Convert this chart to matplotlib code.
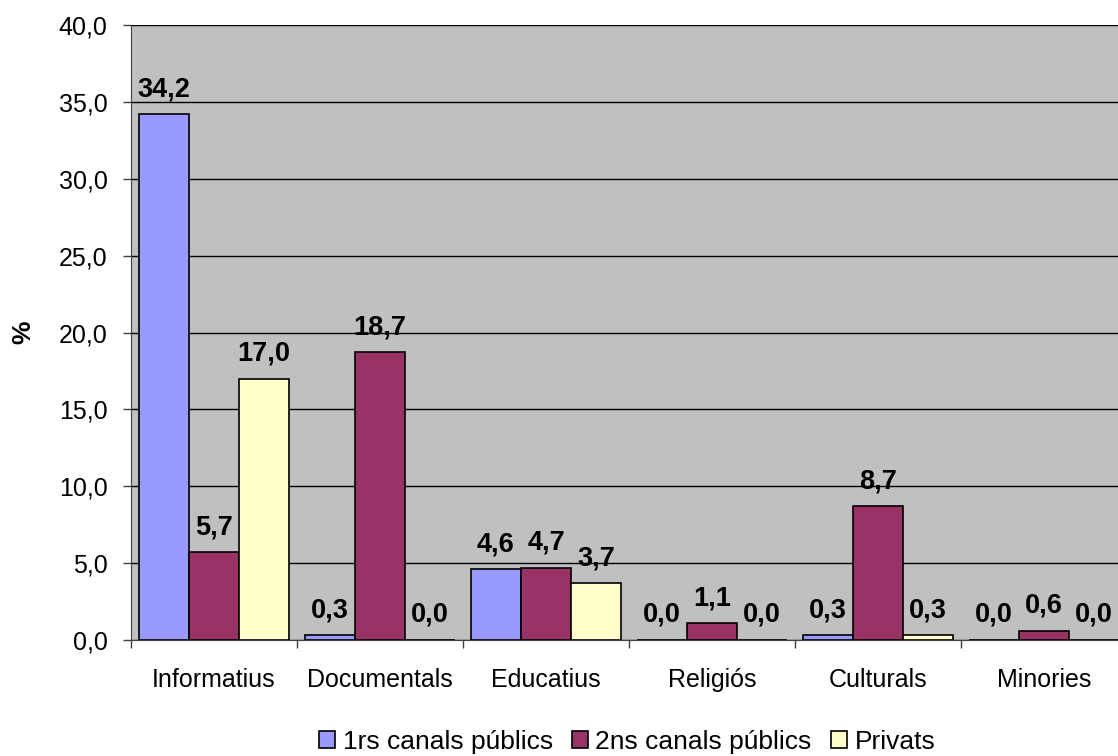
import numpy as np
import matplotlib
matplotlib.use("Agg")
import matplotlib.pyplot as plt
from matplotlib.patches import Patch

plt.rcParams['font.family'] = ['Liberation Sans', 'DejaVu Sans']

categories = ['Informatius', 'Documentals', 'Educatius', 'Religiós', 'Culturals', 'Minories']
primers = [34.2, 0.3, 4.6, 0.0, 0.3, 0.0]
segons = [5.7, 18.7, 4.7, 1.1, 8.7, 0.6]
privats = [17.0, 0.0, 3.7, 0.0, 0.3, 0.0]
series_names = ['1rs canals públics', '2ns canals públics', 'Privats']
colors = ['#9999FF', '#993366', '#FFFFCC']

fig = plt.figure(figsize=(11.18, 7.56), dpi=100)
ax = fig.add_axes([131 / 1118, 116 / 756, 996 / 1118, 615 / 756])
ax.set_facecolor('#C0C0C0')

x = np.arange(len(categories))
w = 0.302
for i, (vals, col) in enumerate(zip([primers, segons, privats], colors)):
    pos = x + (i - 1) * w
    ax.bar(pos, vals, width=w, color=col, edgecolor='black', linewidth=1.2, zorder=3)
    for px, v in zip(pos, vals):
        ax.annotate(f'{v:.1f}'.replace('.', ','), (px, v), xytext=(0, 13),
                    textcoords='offset points', ha='center', va='baseline',
                    fontsize=19.5, fontweight='bold', zorder=4)

ax.set_xlim(-0.5, len(categories) - 0.5)
ax.set_ylim(0, 40)
yt = np.arange(0, 41, 5)
ax.set_yticks(yt)
ax.set_yticklabels([f'{t:.1f}'.replace('.', ',') for t in yt], fontsize=18)
ax.yaxis.grid(True, color='black', linewidth=1)
ax.set_axisbelow(True)

# category names centred, boundary ticks as minor ticks
ax.set_xticks(x)
ax.set_xticklabels(categories, fontsize=18)
ax.set_xticks(np.arange(-0.5, len(categories)), minor=True)
ax.tick_params(axis='x', which='major', length=0, pad=20)
ax.tick_params(axis='x', which='minor', length=6, width=1, color='#404040', direction='out')
ax.tick_params(axis='y', length=6, width=1, color='#404040', pad=11)

for s in ['top', 'right']:
    ax.spines[s].set_visible(False)
ax.spines['left'].set_color('#404040')
ax.spines['bottom'].set_color('#404040')

fig.text(23 / 1118, 1 - 332 / 756, '%', rotation=90, ha='center', va='center',
         fontsize=19, fontweight='bold')

handles = [Patch(facecolor=c, edgecolor='black', linewidth=1.2) for c in colors]
fig.legend(handles, series_names, loc='center', bbox_to_anchor=(627 / 1118, 1 - 742 / 756),
           ncol=3, frameon=False, fontsize=19, handlelength=0.6, handleheight=0.6,
           handletextpad=0.3, columnspacing=0.72, borderpad=0)

fig.savefig('out.png', dpi=100)
